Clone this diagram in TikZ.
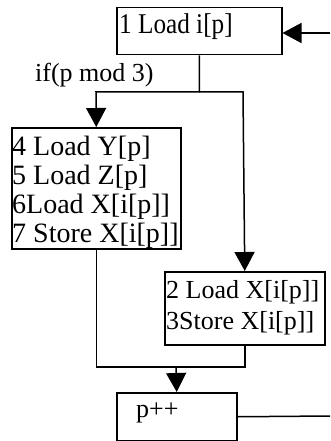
\documentclass[tikz,border=0pt]{standalone}
\usepackage{fontspec}
\setmainfont{Liberation Serif}
\usetikzlibrary{arrows.meta}
\begin{document}
\begin{tikzpicture}[x=1pt,y=-1pt,
  box/.style={draw, line width=1.5pt, rectangle, inner sep=0pt, anchor=north west},
  txt/.style={inner sep=0pt, anchor=base west, font=\fontsize{26}{29.5}\selectfont, align=left},
  bigtxt/.style={txt, font=\fontsize{28}{29.5}\selectfont},
  wire/.style={line width=1.5pt},
  arr/.style={wire, -{Triangle[length=19pt,width=20pt]}}]
\useasboundingbox (0,0) rectangle (330,441);
% boxes
\node[box, minimum width=165pt, minimum height=47pt] (b1) at (116,7) {};
\node[box, minimum width=169pt, minimum height=121pt] (b4) at (11,127) {};
\node[box, minimum width=160pt, minimum height=73pt] (b2) at (164,271) {};
\node[box, minimum width=120pt, minimum height=48pt] (b5) at (116,392) {};
% texts
\node[txt] (t1) at (119,34) {\scalebox{0.97}[1.1]{1 Load i[p]}};
\node[bigtxt] (t4a) at (12,155) {4 Load Y[p]};
\node[bigtxt] (t4b) at (12,184) {5 Load Z[p]};
\node[bigtxt] (t4c) at (12,213) {6Load X[i[p]]};
\node[bigtxt] (t4d) at (12,242) {7 Store X[i[p]]};
\node[txt] (t2a) at (166,298) {2 Load X[i[p]]};
\node[txt] (t2b) at (166,329) {3Store X[i[p]]};
\node[txt] (t5) at (136,417) {p++};
\node[txt] (cond) at (35,82) {if(p mod 3)};
% coordinates
\coordinate (inR) at (330,33);
\coordinate (jL) at (96,92);
\coordinate (jR) at (243,92);
\coordinate (m) at (176,367);
\coordinate (outR) at (330,416);
% connectors
\draw[arr] (inR) -- (b1.east |- inR);
\draw[arr] (b1.south) |- (jL) -- (b4.north);
\draw[arr] (b1.south |- jR) -- (jR) -- (b2.north);
\draw[wire] (b4.south) |- (m);
\draw[wire] (b2.south) |- (m);
\draw[arr] (m) -- (b5.north);
\draw[wire] (b5.east) -- (outR);
\end{tikzpicture}
\end{document}
